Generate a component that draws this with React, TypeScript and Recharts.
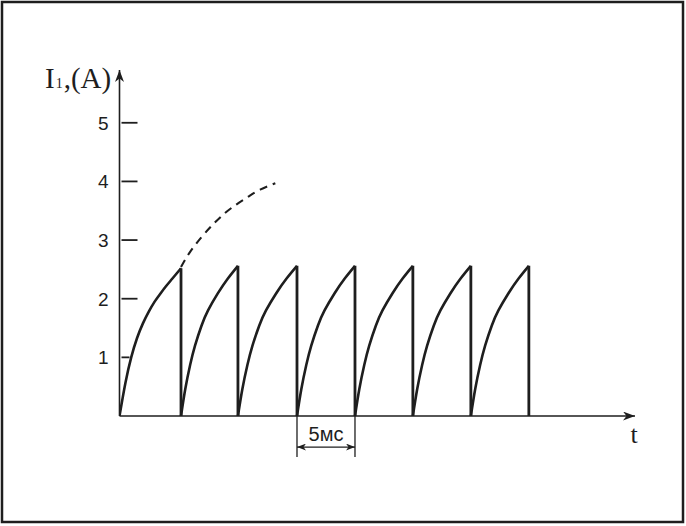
import React from 'react';
import { LineChart, Line, XAxis, YAxis, ReferenceLine } from 'recharts';

// ---- data ----
const yTicks = [1, 2, 3, 4, 5];
// times (ms) at which each charging pulse is cut off
const cycleEnds = [5.25, 10.11, 15.15, 20.1, 25.04, 29.99, 34.94];
// first pulse (starting from t = 0)
const firstCycleT = [0, 0.5, 1.0, 1.5, 2.0, 2.5, 3.0, 3.5, 4.0, 4.5, 5.25];
const firstCycleI = [0, 0.56, 1.0, 1.33, 1.58, 1.78, 1.95, 2.09, 2.22, 2.34, 2.52];
// shape of the following pulses: fraction of the pulse duration -> current (A)
const laterFrac = [0, 0.075, 0.16, 0.246, 0.36, 0.475, 0.646, 0.82, 1];
const laterI = [0, 0.46, 0.87, 1.2, 1.54, 1.8, 2.09, 2.34, 2.56];
// dashed continuation of the first pulse (uninterrupted charging)
const dashedT = [5.25, 6, 7, 8, 9, 10, 11, 12, 13.3];
const dashedI = [2.54, 2.79, 3.05, 3.27, 3.46, 3.61, 3.74, 3.86, 3.97];
const intervalLabel = '5мс';
const xLabel = 't';

// ---- layout ----
const W = 686;
const H = 526;
const T_MAX = 44;
const I_MAX = 5.9;
const MARGIN = { top: 70, right: 51, bottom: 109, left: 118.5 };
const PLOT_LEFT = 119.5;
const INK = '#1e1e1e';

type Pt = { t: number; i: number | null };

const cycles: Pt[][] = cycleEnds.map((end, k) => {
  if (k === 0) return firstCycleT.map((t, j) => ({ t, i: firstCycleI[j] }));
  const start = cycleEnds[k - 1];
  return laterFrac.map((f, j) => ({ t: start + f * (end - start), i: laterI[j] }));
});

const drops: Pt[] = [];
cycles.forEach((c, k) => {
  const end = cycleEnds[k];
  drops.push({ t: end, i: c[c.length - 1].i });
  drops.push({ t: end, i: 0 });
  drops.push({ t: end, i: null });
});

const dashed: Pt[] = dashedT.map((t, j) => ({ t, i: dashedI[j] }));

const YTick = (props: any) => {
  const { y, payload } = props;
  const v = payload.value;
  const x0 = PLOT_LEFT;
  return (
    <g>
      <line x1={x0 + 2} x2={x0 + (v === 1 ? 10 : 18)} y1={y} y2={y} stroke={INK} strokeWidth={1.8} />
      <text
        x={x0 - 11}
        y={y + 7}
        textAnchor="end"
        fontFamily="'Liberation Sans', Arial, sans-serif"
        fontSize={19}
        fill={INK}
      >
        {v}
      </text>
    </g>
  );
};

export default function App() {
  return (
    <div style={{ position: 'absolute', left: 0, top: 0, width: W, height: H, background: '#fff' }}>
      <svg width={0} height={0} style={{ position: 'absolute' }}>
        <defs>
          <marker id="arrowRight" viewBox="0 0 12 9" refX={12} refY={4.5} markerWidth={12} markerHeight={9} markerUnits="userSpaceOnUse" orient="auto">
            <path d="M0,0 L12,4.5 L0,9 L3.5,4.5 z" fill={INK} />
          </marker>
          <marker id="arrowUp" viewBox="0 0 12 9" refX={12} refY={4.5} markerWidth={12} markerHeight={9} markerUnits="userSpaceOnUse" orient="270">
            <path d="M0,0 L12,4.5 L0,9 L3.5,4.5 z" fill={INK} />
          </marker>
          <marker id="dimArrow" viewBox="0 0 9 7" refX={9} refY={3.5} markerWidth={9} markerHeight={7} markerUnits="userSpaceOnUse" orient="auto-start-reverse">
            <path d="M0,0 L9,3.5 L0,7 L2.5,3.5 z" fill={INK} />
          </marker>
        </defs>
      </svg>
      <LineChart width={W} height={H} margin={MARGIN}>
        <XAxis
          type="number"
          dataKey="t"
          domain={[0, T_MAX]}
          allowDataOverflow
          height={1}
          tick={false}
          tickLine={false}
          axisLine={{ stroke: INK, strokeWidth: 1.6, markerEnd: 'url(#arrowRight)' } as any}
        />
        <YAxis
          type="number"
          domain={[0, I_MAX]}
          allowDataOverflow
          width={1}
          ticks={yTicks}
          interval={0}
          tickLine={false}
          tick={<YTick />}
          axisLine={{ stroke: INK, strokeWidth: 1.6, markerStart: 'url(#arrowUp)' } as any}
        />
        {cycles.map((c, k) => (
          <Line
            key={k}
            data={c}
            dataKey="i"
            type="natural"
            stroke={INK}
            strokeWidth={2.6}
            dot={false}
            activeDot={false}
            isAnimationActive={false}
          />
        ))}
        <Line
          data={drops}
          dataKey="i"
          type="linear"
          stroke={INK}
          strokeWidth={2.8}
          dot={false}
          activeDot={false}
          connectNulls={false}
          isAnimationActive={false}
        />
        <Line
          data={dashed}
          dataKey="i"
          type="natural"
          stroke={INK}
          strokeWidth={2.1}
          strokeDasharray="8 6"
          dot={false}
          activeDot={false}
          isAnimationActive={false}
        />
        <ReferenceLine
          segment={[{ x: cycleEnds[2], y: 0 }, { x: cycleEnds[2], y: -0.7 }]}
          ifOverflow="visible"
          stroke={INK}
          strokeWidth={1.3}
        />
        <ReferenceLine
          segment={[{ x: cycleEnds[3], y: 0 }, { x: cycleEnds[3], y: -0.7 }]}
          ifOverflow="visible"
          stroke={INK}
          strokeWidth={1.3}
        />
        <ReferenceLine
          segment={[{ x: cycleEnds[2], y: -0.53 }, { x: cycleEnds[3], y: -0.53 }]}
          ifOverflow="visible"
          stroke={INK}
          strokeWidth={1.3}
          {...({ markerStart: 'url(#dimArrow)', markerEnd: 'url(#dimArrow)' } as any)}
          label={{
            value: intervalLabel,
            position: 'top',
            offset: 6,
            fontSize: 20,
            fontFamily: "'Liberation Sans', Arial, sans-serif",
            fill: INK,
          } as any}
        />
      </LineChart>
      <svg width={W} height={H} style={{ position: 'absolute', left: 0, top: 0, pointerEvents: 'none' }}>
        <rect x={2} y={2} width={681} height={520} fill="none" stroke={INK} strokeWidth={2.5} />
        <text x={45} y={88} fontFamily="'Liberation Serif', 'Times New Roman', serif" fontSize={29} fill={INK}>
          I<tspan fontSize={14} dx={1}>1</tspan>
          <tspan dx={1}>,(A)</tspan>
        </text>
        <text x={634} y={443} textAnchor="middle" fontFamily="'Liberation Serif', 'Times New Roman', serif" fontSize={26} fill={INK}>
          {xLabel}
        </text>
      </svg>
    </div>
  );
}
